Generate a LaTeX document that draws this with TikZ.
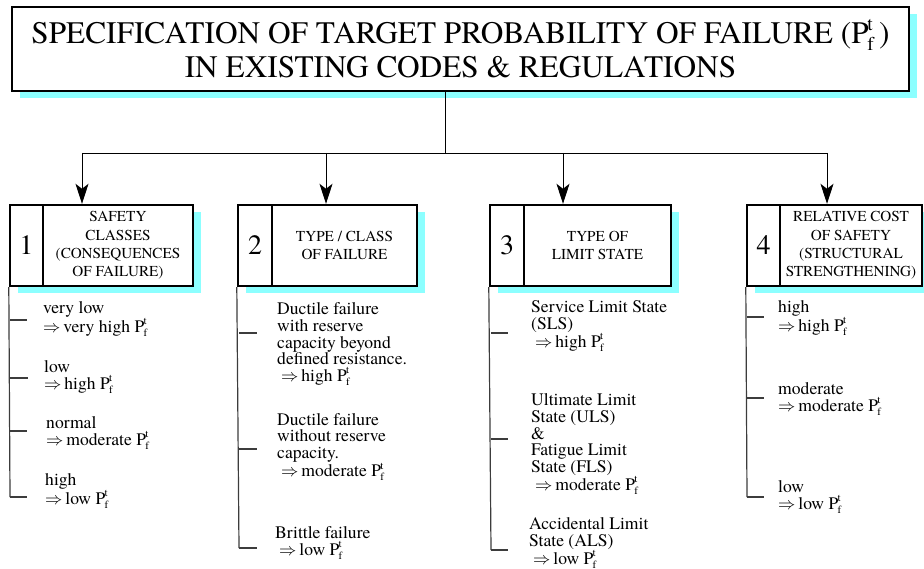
\documentclass[tikz,border=0pt]{standalone}
\usepackage{graphicx}
\usepackage{fontspec}
\setmainfont{texgyretermes}[Extension=.otf,UprightFont=*-regular,BoldFont=*-bold,ItalicFont=*-italic,BoldItalicFont=*-bolditalic]
\usetikzlibrary{arrows.meta,shadows}
\definecolor{shadecyan}{RGB}{140,255,255}
\definecolor{spinegray}{RGB}{60,60,60}
% P with stacked superscript t and subscript f, set in text fonts
\newcommand{\idx}[1]{\scalebox{0.62}{#1}}
\newcommand{\Pft}{P\kern-0.04em\rlap{\raisebox{0.42em}{\idx{t}}}\raisebox{-0.22em}{\idx{f}}}
\newcommand{\impl}{$\Rightarrow$\,}

\begin{document}
\begin{tikzpicture}[x=1pt,y=-1pt,
  cyanshadow/.style={drop shadow={shadow xshift=8pt,shadow yshift=-7pt,fill=shadecyan,opacity=1}},
  titlebox/.style={draw,line width=2.6pt,fill=white,cyanshadow,inner sep=0pt,
    minimum width=897pt,minimum height=84pt,align=center,
    font=\fontsize{31.3}{34}\selectfont},
  numcell/.style={draw,line width=2.4pt,fill=white,cyanshadow,inner sep=0pt,
    minimum height=81pt,font=\fontsize{28}{28}\selectfont},
  headcell/.style={draw,line width=2.4pt,fill=white,cyanshadow,inner sep=0pt,
    minimum height=81pt,align=center,font=\fontsize{15.2}{18.3}\selectfont},
  item/.style={anchor=west,inner sep=0pt,align=left,font=\fontsize{17.6}{16.6}\selectfont},
  feed/.style={line width=0.9pt,-{Stealth[length=20pt,width=13pt,inset=5pt]}},
  link/.style={line width=0.9pt},
  spine/.style={line width=1.2pt,spinegray},
]
\useasboundingbox (0,0) rectangle (924,569);

% heading
\node[titlebox] (title) at (460.5,49)
  {SPECIFICATION OF TARGET PROBABILITY OF FAILURE (\Pft\,)\\IN EXISTING CODES \& REGULATIONS};

% the four criteria
\node[numcell,minimum width=33pt] (n1) at (26.5,245.5) {1};
\node[headcell,minimum width=150pt] (h1) at (118,245.5) {SAFETY\\CLASSES\\(CONSEQUENCES\\OF FAILURE)};
\node[numcell,minimum width=34pt] (n2) at (255,245.5) {2};
\node[headcell,minimum width=145pt] (h2) at (344.5,245.5) {TYPE / CLASS\\OF FAILURE};
\node[numcell,minimum width=34pt] (n3) at (507,245.5) {3};
\node[headcell,minimum width=147pt] (h3) at (597.5,245.5) {TYPE OF\\LIMIT STATE};
\node[numcell,minimum width=33pt] (n4) at (763.5,245.5) {4};
\node[headcell,minimum width=142pt] (h4) at (851,245.5) {RELATIVE COST\\OF SAFETY\\(STRUCTURAL\\STRENGTHENING)};

% distribution bar
\coordinate (hub) at (445,153);
\coordinate (b1) at (82,153);
\coordinate (b2) at (326,153);
\coordinate (b3) at (563,153);
\coordinate (b4) at (827,153);
\draw[link] (title.south -| hub) -- (hub);
\draw[link] (b1) -- (b4);
\draw[feed] (b1) -- (b1 |- h1.north);
\draw[feed] (b2) -- (b2 |- h2.north);
\draw[feed] (b3) -- (b3 |- h3.north);
\draw[feed] (b4) -- (b4 |- h4.north);

% list 1
\node[item] (a1) at (43,319) {very low\\\impl very high \Pft};
\node[item] (a2) at (44,377) {low\\\impl high \Pft};
\node[item] (a3) at (46,433) {normal\\\impl moderate \Pft};
\node[item] (a4) at (45,491) {high\\\impl low \Pft};
\coordinate (s1) at (10,497);
\draw[spine] (n1.south west) -- (s1);
\draw[spine] (s1 |- 0,320) -- (27,320) coordinate (t11);
\draw[spine] (s1 |- 0,378) -- (28,378) coordinate (t12);
\draw[spine] (s1 |- 0,431) -- (27,431) coordinate (t13);
\draw[spine] (s1) -- (27,497) coordinate (t14);

% list 2
\node[item] (c1) at (277,344) {Ductile failure\\with reserve\\capacity beyond\\defined resistance.\\\hspace{4pt}\impl high \Pft};
\node[item] (c2) at (277,447) {Ductile failure\\without reserve\\capacity.\\\hspace{4pt}\impl moderate \Pft};
\node[item] (c3) at (275,543) {Brittle failure\\\hspace{4pt}\impl low \Pft};
\coordinate (s2) at (239,548);
\draw[spine] (n2.south west) -- (s2);
\draw[spine] (s2 |- 0,333) -- (257,333) coordinate (t21);
\draw[spine] (s2 |- 0,449) -- (257,449) coordinate (t22);
\draw[spine] (s2) -- (257,548) coordinate (t23);

% list 3
\node[item] (d1) at (531,326) {Service Limit State\\(SLS)\\\hspace{4pt}\impl high \Pft};
\node[item] (d2) at (531,444) {Ultimate Limit\\State (ULS)\\\&\\Fatigue Limit\\State (FLS)\\\hspace{4pt}\impl moderate \Pft};
\node[item] (d3) at (529,543) {Accidental Limit\\State (ALS)\\\hspace{4pt}\impl low \Pft};
\coordinate (s3) at (491,550);
\draw[spine] (n3.south west) -- (s3);
\draw[spine] (s3 |- 0,333) -- (508,333) coordinate (t31);
\draw[spine] (s3 |- 0,439) -- (508,439) coordinate (t32);
\draw[spine] (s3) -- (508,550) coordinate (t33);

% list 4
\node[item] (e1) at (778,318) {high\\\impl high \Pft};
\node[item] (e2) at (778,399) {moderate\\\impl moderate \Pft};
\node[item] (e3) at (778,497) {low\\\impl low \Pft};
\coordinate (s4) at (747,497);
\draw[spine] (n4.south west) -- (s4);
\draw[spine] (s4 |- 0,317) -- (764,317) coordinate (t41);
\draw[spine] (s4 |- 0,398) -- (764,398) coordinate (t42);
\draw[spine] (s4) -- (764,497) coordinate (t43);
\end{tikzpicture}
\end{document}
